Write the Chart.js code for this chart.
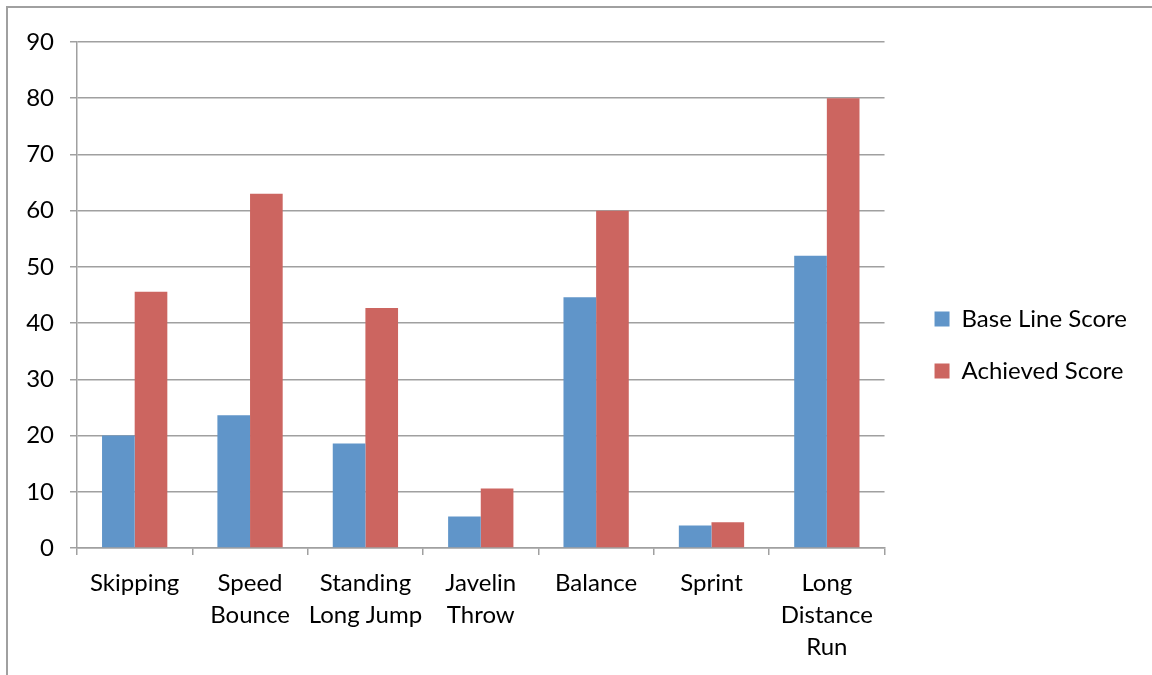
<!DOCTYPE html>
<html>
<head>
<meta charset="utf-8">
<script src="https://cdn.jsdelivr.net/npm/chart.js@4/dist/chart.umd.min.js"></script>
<style>
  html, body { margin: 0; padding: 0; background: #fff; }
  #wrap { position: relative; width: 1152px; height: 675px; overflow: hidden; }
  #frame { position: absolute; left: 6px; top: 6px; width: 1200px; height: 700px;
           border-top: 2px solid #a0a0a0; border-left: 2px solid #a0a0a0; }
  canvas { position: absolute; left: 0; top: 0; }
</style>
</head>
<body>
<div id="wrap">
  <div id="frame"></div>
  <canvas id="chartScores" width="1152" height="675"></canvas>
</div>
<script>
const categories = [
  'Skipping',
  ['Speed', 'Bounce'],
  ['Standing', 'Long Jump'],
  ['Javelin', 'Throw'],
  'Balance',
  'Sprint',
  ['Long', 'Distance', 'Run']
];
const baseLineScore = [20, 23.6, 18.6, 5.6, 44.6, 4, 52];
const achievedScore = [45.6, 63, 42.7, 10.6, 60, 4.6, 80];
const yTicks = { min: 0, max: 90, step: 10 };

const gridColor = '#a0a0a0';
const fontFamily = 'Lato, "Open Sans", sans-serif';

const ctx = document.getElementById('chartScores').getContext('2d');

// blank axes used only as spacers
const spacer = (pos, size) => ({
  position: pos,
  afterFit: (s) => {
    if (pos === 'top') s.height = size; else s.width = size;
  },
  grid: { display: false },
  border: { display: false },
  ticks: { display: false }
});

new Chart(ctx, {
  type: 'bar',
  data: {
    labels: categories,
    datasets: [{
      label: 'Base Line Score',
      data: baseLineScore,
      backgroundColor: '#6095c9',
      categoryPercentage: 0.566,
      barPercentage: 1
    }, {
      label: 'Achieved Score',
      data: achievedScore,
      backgroundColor: '#cc6560',
      categoryPercentage: 0.566,
      barPercentage: 1
    }]
  },
  options: {
    responsive: false,
    animation: false,
    layout: {
      padding: { top: 25, left: 20, right: 15, bottom: 10 }
    },
    plugins: {
      legend: {
        position: 'right',
        maxWidth: 400,
        labels: {
          color: '#000',
          font: { family: fontFamily, size: 24 },
          boxWidth: 15,
          boxHeight: 15,
          padding: 28
        }
      },
      tooltip: { enabled: false }
    },
    scales: {
      x: {
        offset: true,
        afterFit: (s) => { s.height = 117; },
        grid: {
          offset: true,
          drawOnChartArea: false,
          color: gridColor,
          lineWidth: 1.5,
          tickLength: 7
        },
        border: { color: gridColor, width: 1.5 },
        ticks: {
          color: '#000',
          font: { family: fontFamily, size: 24, lineHeight: 1.333 },
          padding: 12,
          maxRotation: 0,
          autoSkip: false
        }
      },
      y: {
        min: yTicks.min,
        max: yTicks.max,
        afterFit: (s) => { s.width = 57; },
        grid: {
          color: gridColor,
          lineWidth: 1.5,
          tickLength: 7
        },
        border: { color: gridColor, width: 1.5 },
        ticks: {
          stepSize: yTicks.step,
          color: '#000',
          font: { family: fontFamily, size: 24 },
          padding: 16
        }
      },
      gapRight: spacer('right', 22),
      gapTop: spacer('top', 17)
    }
  }
});
</script>
</body>
</html>
